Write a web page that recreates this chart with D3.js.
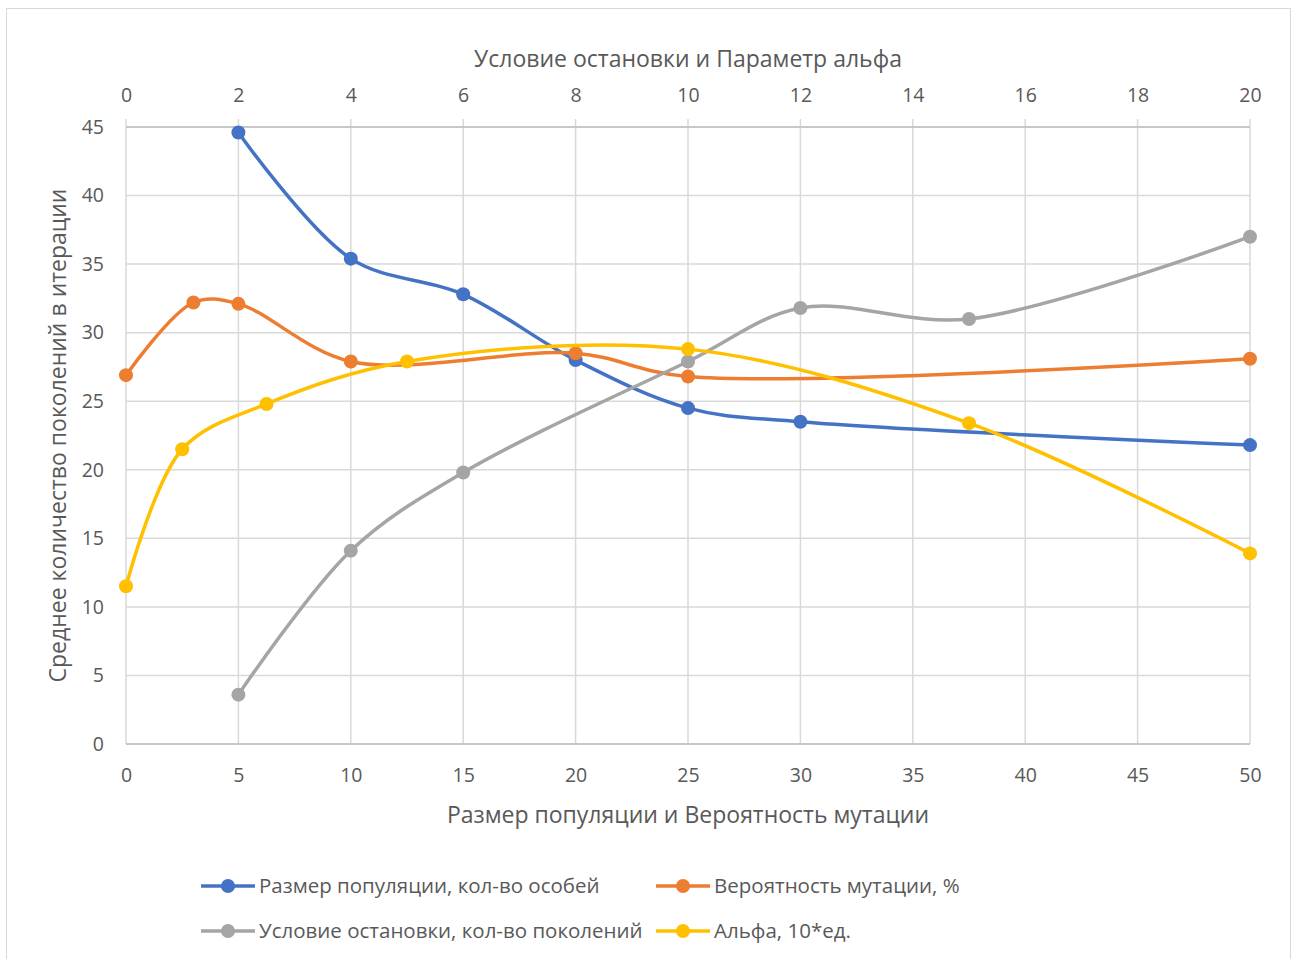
<!DOCTYPE html>
<html>
<head>
<meta charset="utf-8">
<script src="https://cdn.jsdelivr.net/npm/d3@7"></script>
<style>
  body { margin: 0; background: #fff; }
  svg text { font-family: "Open Sans", sans-serif; fill: #595959; }
</style>
</head>
<body>
<div id="chart-area"></div>
<script>
// data
var popX = [5, 10, 15, 20, 25, 30, 50];
var popY = [44.6, 35.4, 32.8, 28.0, 24.5, 23.5, 21.8];

var mutX = [0, 3, 5, 10, 20, 25, 50];
var mutY = [26.9, 32.2, 32.1, 27.9, 28.5, 26.8, 28.1];

// these two use the top axis
var stopX = [2, 4, 6, 10, 12, 15, 20];
var stopY = [3.6, 14.1, 19.8, 27.9, 31.8, 31.0, 37.0];

var alphaX = [0, 1, 2.5, 5, 10, 15, 20];
var alphaY = [11.5, 21.5, 24.8, 27.9, 28.8, 23.4, 13.9];

var bottomTicks = [0, 5, 10, 15, 20, 25, 30, 35, 40, 45, 50];
var topTicks = [0, 2, 4, 6, 8, 10, 12, 14, 16, 18, 20];
var yTicks = [0, 5, 10, 15, 20, 25, 30, 35, 40, 45];

var seriesNames = ["Размер популяции, кол-во особей", "Вероятность мутации, %",
                   "Условие остановки, кол-во поколений", "Альфа, 10*ед."];
var colors = ["#4472C4", "#ED7D31", "#A5A5A5", "#FFC000"];

var width = 1299, height = 959;
var plotL = 126, plotR = 1250, plotT = 127, plotB = 744;

var svg = d3.select("#chart-area")
  .append("svg")
    .attr("width", width)
    .attr("height", height);

// chart border
svg.append("rect")
  .attr("x", 6.5).attr("y", 8.5)
  .attr("width", 1284).attr("height", 960)
  .attr("fill", "none").attr("stroke", "#D9D9D9");

var xBottom = d3.scaleLinear().domain([0, 50]).range([plotL, plotR]);
var xTop = d3.scaleLinear().domain([0, 20]).range([plotL, plotR]);
var y = d3.scaleLinear().domain([0, 45]).range([plotB, plotT]);

// gridlines
svg.append("g")
  .selectAll("line")
  .data(yTicks)
  .enter()
  .append("line")
    .attr("x1", plotL).attr("x2", plotR)
    .attr("y1", function(d) { return y(d); })
    .attr("y2", function(d) { return y(d); })
    .attr("stroke", "#D9D9D9").attr("stroke-width", 1.5);

svg.append("g")
  .selectAll("line")
  .data(bottomTicks)
  .enter()
  .append("line")
    .attr("x1", function(d) { return xBottom(d); })
    .attr("x2", function(d) { return xBottom(d); })
    .attr("y1", plotT - 8).attr("y2", plotB)
    .attr("stroke", "#D9D9D9").attr("stroke-width", 1.5);

// axis lines
svg.append("line")
  .attr("x1", plotL).attr("x2", plotR).attr("y1", plotB).attr("y2", plotB)
  .attr("stroke", "#BFBFBF").attr("stroke-width", 1.5);
svg.append("line")
  .attr("x1", plotL).attr("x2", plotR).attr("y1", plotT).attr("y2", plotT)
  .attr("stroke", "#BFBFBF").attr("stroke-width", 1.5);

// axes with d3, keep only the labels
var fontSize = 19.5;

var gBottom = svg.append("g")
  .attr("transform", "translate(0," + plotB + ")")
  .call(d3.axisBottom(xBottom).tickValues(bottomTicks).tickSize(0).tickPadding(24));
var gTop = svg.append("g")
  .attr("transform", "translate(0," + plotT + ")")
  .call(d3.axisTop(xTop).tickValues(topTicks).tickSize(0).tickPadding(25));
var gLeft = svg.append("g")
  .attr("transform", "translate(" + plotL + ",0)")
  .call(d3.axisLeft(y).tickValues(yTicks).tickSize(0).tickPadding(22));

[gBottom, gTop, gLeft].forEach(function(g) {
  g.select(".domain").remove();
  g.selectAll("text")
    .attr("fill", "#595959")
    .style("font-size", fontSize + "px")
    .style("font-family", "'Open Sans', sans-serif");
});

// axis titles
svg.append("text")
  .attr("x", (plotL + plotR) / 2).attr("y", 67)
  .attr("text-anchor", "middle")
  .style("font-size", "23px")
  .text("Условие остановки и Параметр альфа");

svg.append("text")
  .attr("x", (plotL + plotR) / 2).attr("y", 823)
  .attr("text-anchor", "middle")
  .style("font-size", "23px")
  .text("Размер популяции и Вероятность мутации");

svg.append("text")
  .attr("transform", "translate(66," + ((plotT + plotB) / 2) + ") rotate(-90)")
  .attr("text-anchor", "middle")
  .style("font-size", "23px")
  .text("Среднее количество поколений в итерации");

// series
var series = [
  { xs: popX, ys: popY, sx: xBottom },
  { xs: mutX, ys: mutY, sx: xBottom },
  { xs: stopX, ys: stopY, sx: xTop },
  { xs: alphaX, ys: alphaY, sx: xTop }
];

series.forEach(function(s, k) {
  var pts = s.xs.map(function(v, i) { return [v, s.ys[i]]; });
  var line = d3.line()
    .x(function(d) { return s.sx(d[0]); })
    .y(function(d) { return y(d[1]); })
    .curve(d3.curveCatmullRom.alpha(0.5));

  svg.append("path")
    .datum(pts)
    .attr("d", line)
    .attr("fill", "none")
    .attr("stroke", colors[k])
    .attr("stroke-width", 3.5)
    .attr("stroke-linecap", "round");

  svg.append("g")
    .selectAll("circle")
    .data(pts)
    .enter()
    .append("circle")
      .attr("cx", function(d) { return s.sx(d[0]); })
      .attr("cy", function(d) { return y(d[1]); })
      .attr("r", 7)
      .attr("fill", colors[k]);
});

// legend
var legendPos = [[201, 886], [656, 886], [201, 931], [656, 931]];
var legend = svg.append("g")
  .selectAll("g")
  .data(seriesNames)
  .enter()
  .append("g")
    .attr("transform", function(d, i) { return "translate(" + legendPos[i][0] + "," + legendPos[i][1] + ")"; });

legend.append("line")
  .attr("x1", 0).attr("x2", 54)
  .attr("stroke", function(d, i) { return colors[i]; })
  .attr("stroke-width", 3.5);
legend.append("circle")
  .attr("cx", 27).attr("r", 7)
  .attr("fill", function(d, i) { return colors[i]; });
legend.append("text")
  .attr("x", 58).attr("dy", "0.35em")
  .style("font-size", "20.5px")
  .text(function(d) { return d; });
</script>
</body>
</html>
